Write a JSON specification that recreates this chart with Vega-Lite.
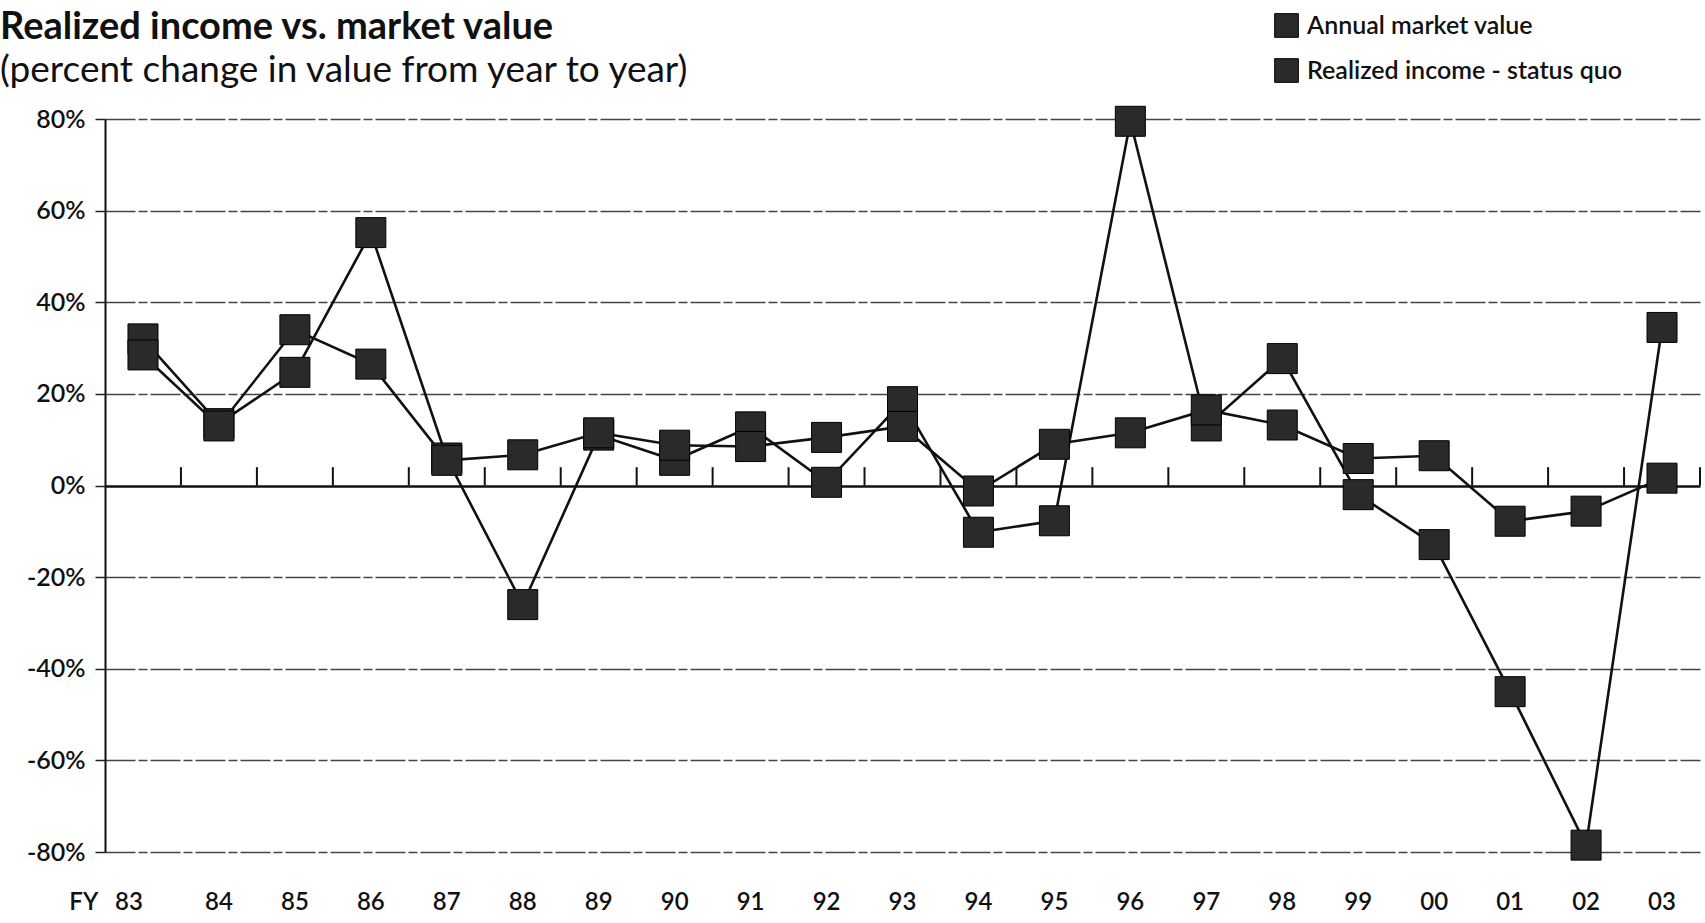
{
  "$schema": "https://vega.github.io/schema/vega-lite/v6.json",
  "width": 1595,
  "height": 733,
  "autosize": {"type": "none"},
  "padding": {"left": 105, "top": 119, "right": 5, "bottom": 71},
  "background": "#ffffff",
  "config": {"view": {"stroke": null}, "font": "Lato"},
  "title": {
    "text": "Realized income vs. market value",
    "subtitle": "(percent change in value from year to year)",
    "anchor": "start",
    "frame": "group",
    "dx": -105,
    "dy": 106,
    "offset": 30,
    "font": "Lato",
    "fontSize": 38,
    "fontWeight": "bold",
    "color": "#111111",
    "subtitleFont": "Lato",
    "subtitleFontSize": 37,
    "subtitleFontWeight": "normal",
    "subtitleColor": "#111111",
    "subtitlePadding": 6
  },
  "datasets": {
    "yrs": [
      {"yr": "83"}, {"yr": "84"}, {"yr": "85"}, {"yr": "86"}, {"yr": "87"}, {"yr": "88"}, {"yr": "89"},
      {"yr": "90"}, {"yr": "91"}, {"yr": "92"}, {"yr": "93"}, {"yr": "94"}, {"yr": "95"}, {"yr": "96"},
      {"yr": "97"}, {"yr": "98"}, {"yr": "99"}, {"yr": "00"}, {"yr": "01"}, {"yr": "02"}, {"yr": "03"}
    ],
    "vals": [
      {"i": 0, "yr": "83", "series": "Annual market value", "v": 32},
      {"i": 1, "yr": "84", "series": "Annual market value", "v": 13.5},
      {"i": 2, "yr": "85", "series": "Annual market value", "v": 24.7},
      {"i": 3, "yr": "86", "series": "Annual market value", "v": 55.2},
      {"i": 4, "yr": "87", "series": "Annual market value", "v": 6},
      {"i": 5, "yr": "88", "series": "Annual market value", "v": -26},
      {"i": 6, "yr": "89", "series": "Annual market value", "v": 11},
      {"i": 7, "yr": "90", "series": "Annual market value", "v": 5.5},
      {"i": 8, "yr": "91", "series": "Annual market value", "v": 12.8},
      {"i": 9, "yr": "92", "series": "Annual market value", "v": 0.7},
      {"i": 10, "yr": "93", "series": "Annual market value", "v": 18.3},
      {"i": 11, "yr": "94", "series": "Annual market value", "v": -10.2},
      {"i": 12, "yr": "95", "series": "Annual market value", "v": -7.7},
      {"i": 13, "yr": "96", "series": "Annual market value", "v": 79.5},
      {"i": 14, "yr": "97", "series": "Annual market value", "v": 13},
      {"i": 15, "yr": "98", "series": "Annual market value", "v": 27.7},
      {"i": 16, "yr": "99", "series": "Annual market value", "v": -2},
      {"i": 17, "yr": "00", "series": "Annual market value", "v": -12.9},
      {"i": 18, "yr": "01", "series": "Annual market value", "v": -45},
      {"i": 19, "yr": "02", "series": "Annual market value", "v": -78.5},
      {"i": 20, "yr": "03", "series": "Annual market value", "v": 34.5},
      {"i": 0, "yr": "83", "series": "Realized income - status quo", "v": 28.5},
      {"i": 1, "yr": "84", "series": "Realized income - status quo", "v": 13},
      {"i": 2, "yr": "85", "series": "Realized income - status quo", "v": 34},
      {"i": 3, "yr": "86", "series": "Realized income - status quo", "v": 26.5},
      {"i": 4, "yr": "87", "series": "Realized income - status quo", "v": 5.5},
      {"i": 5, "yr": "88", "series": "Realized income - status quo", "v": 6.7},
      {"i": 6, "yr": "89", "series": "Realized income - status quo", "v": 11.5},
      {"i": 7, "yr": "90", "series": "Realized income - status quo", "v": 8.8},
      {"i": 8, "yr": "91", "series": "Realized income - status quo", "v": 8.5},
      {"i": 9, "yr": "92", "series": "Realized income - status quo", "v": 10.5},
      {"i": 10, "yr": "93", "series": "Realized income - status quo", "v": 12.9},
      {"i": 11, "yr": "94", "series": "Realized income - status quo", "v": -1.2},
      {"i": 12, "yr": "95", "series": "Realized income - status quo", "v": 9},
      {"i": 13, "yr": "96", "series": "Realized income - status quo", "v": 11.5},
      {"i": 14, "yr": "97", "series": "Realized income - status quo", "v": 16.5},
      {"i": 15, "yr": "98", "series": "Realized income - status quo", "v": 13.2},
      {"i": 16, "yr": "99", "series": "Realized income - status quo", "v": 5.9},
      {"i": 17, "yr": "00", "series": "Realized income - status quo", "v": 6.5},
      {"i": 18, "yr": "01", "series": "Realized income - status quo", "v": -7.8},
      {"i": 19, "yr": "02", "series": "Realized income - status quo", "v": -5.6},
      {"i": 20, "yr": "03", "series": "Realized income - status quo", "v": 1.6}
    ]
  },
  "layer": [
    {
      "data": {"name": "yrs"},
      "mark": {"type": "rule", "color": "#111111", "strokeWidth": 2},
      "encoding": {
        "x": {
          "field": "yr",
          "type": "ordinal",
          "bandPosition": 1,
          "scale": {
            "domain": ["83","84","85","86","87","88","89","90","91","92","93","94","95","96","97","98","99","00","01","02","03"],
            "paddingInner": 0,
            "paddingOuter": 0
          },
          "axis": {
            "orient": "bottom",
            "title": null,
            "domain": false,
            "ticks": false,
            "grid": false,
            "labelAngle": 0,
            "labelPadding": 38,
            "labelFont": "Lato",
            "labelFontSize": 24,
            "labelFontWeight": 600,
            "labelColor": "#111111",
            "labelExpr": "datum.value == '83' ? 'FY\u00a0\u00a0\u00a083' : datum.value",
            "labelAlign": {"condition": {"test": "datum.value == '83'", "value": "right"}, "value": "center"}
          }
        },
        "y": {"datum": 0, "type": "quantitative"},
        "y2": {"datum": 4}
      }
    },
    {
      "data": {"name": "vals"},
      "mark": {"type": "line", "color": "#111111", "strokeWidth": 2.6},
      "encoding": {
        "x": {"field": "yr", "type": "ordinal"},
        "y": {
          "field": "v",
          "type": "quantitative",
          "scale": {"domain": [-80, 80], "nice": false, "zero": false},
          "axis": {
            "title": null,
            "values": [-80, -60, -40, -20, 0, 20, 40, 60, 80],
            "labelExpr": "datum.value + '%'",
            "labelFont": "Lato",
            "labelFontSize": 25,
            "labelFontWeight": 600,
            "labelColor": "#111111",
            "labelPadding": 10,
            "domainColor": "#111111",
            "domainWidth": 2,
            "tickSize": 10,
            "tickColor": "#222222",
            "tickWidth": 1.5,
            "grid": true,
            "gridColor": {"condition": {"test": "datum.value === 0", "value": "#111111"}, "value": "#444444"},
            "gridWidth": {"condition": {"test": "datum.value === 0", "value": 2.6}, "value": 1.4},
            "gridDash": {"condition": {"test": "datum.value === 0", "value": []}, "value": [30, 3, 9, 3]}
          }
        },
        "detail": {"field": "series"},
        "order": {"field": "i"}
      }
    },
    {
      "data": {"name": "vals"},
      "mark": {"type": "point", "shape": "square", "filled": true, "size": 900, "opacity": 1, "stroke": "#000000", "strokeWidth": 1},
      "encoding": {
        "x": {"field": "yr", "type": "ordinal"},
        "y": {"field": "v", "type": "quantitative"},
        "color": {
          "field": "series",
          "type": "nominal",
          "scale": {"domain": ["Annual market value", "Realized income - status quo"], "range": ["#2a2a2a", "#2a2a2a"]},
          "legend": {
            "title": null,
            "orient": "none",
            "legendX": 1169,
            "legendY": -106,
            "padding": 0,
            "symbolType": "square",
            "symbolSize": 560,
            "symbolFillColor": "#2a2a2a",
            "symbolStrokeColor": "#000000",
            "symbolStrokeWidth": 1,
            "symbolOpacity": 1,
            "labelFont": "Lato",
            "labelFontSize": 25,
            "labelFontWeight": 600,
            "labelColor": "#111111",
            "labelOffset": 8,
            "rowPadding": 16,
            "labelLimit": 400
          }
        }
      }
    }
  ]
}
